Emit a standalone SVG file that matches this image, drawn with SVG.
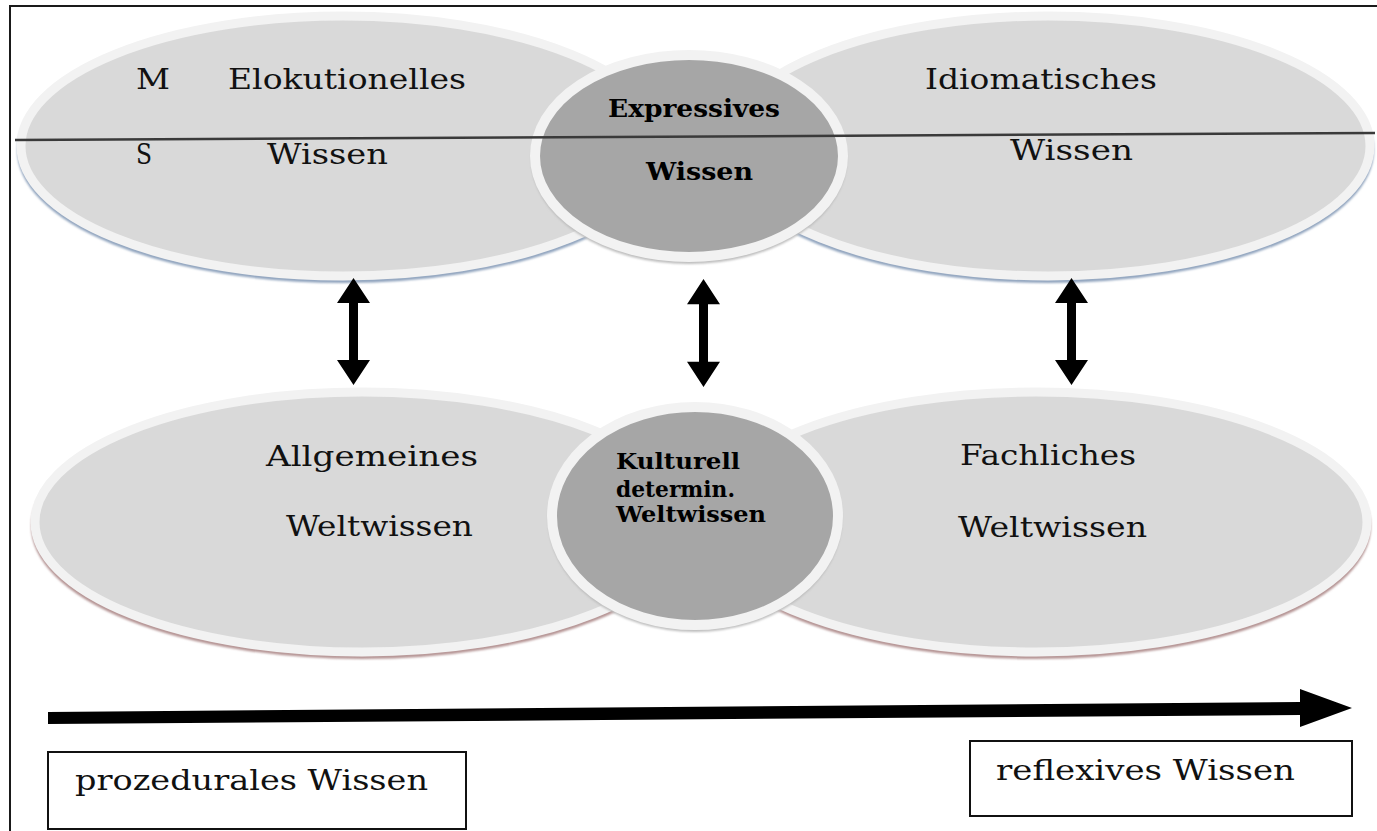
<svg xmlns="http://www.w3.org/2000/svg" xmlns:xlink="http://www.w3.org/1999/xlink" width="1377" height="831" viewBox="0 0 1377 831">
  <defs>
    <style>
      .big { fill: #d9d9d9; stroke: #f2f2f2; stroke-width: 9; }
      .mid { fill: #a6a6a6; stroke: #f2f2f2; stroke-width: 10; }
      .shB { fill: none; stroke: #8fa3bd; stroke-width: 4; filter: url(#soft); }
      .shR { fill: none; stroke: #b49393; stroke-width: 4; filter: url(#soft); }
      .shG { fill: none; stroke: #bdbdbd; stroke-width: 4; filter: url(#soft); }
      .t { font-family: "DejaVu Serif", "Liberation Serif", serif; font-size: 27px; fill: #111; }
      .tb { font-family: "DejaVu Serif", "Liberation Serif", serif; font-weight: bold; fill: #000; }
      .box { fill: #fff; stroke: #111; stroke-width: 2; }
    </style>
    <filter id="soft" x="-5%" y="-5%" width="110%" height="110%">
      <feGaussianBlur stdDeviation="1"/>
    </filter>
    <path id="dbl" d="M0,0 L16.5,25 L4.5,25 L4.5,82 L16.5,82 L0,107 L-16.5,82 L-4.5,82 L-4.5,25 L-16.5,25 Z" fill="#000"/>
  </defs>

  <rect x="10" y="6" width="1380" height="840" fill="#fff" stroke="#1a1a1a" stroke-width="2"/>

  <g id="node-elokutionelles">
    <ellipse class="shB" cx="343" cy="150" rx="324" ry="131"/>
    <ellipse class="big" cx="343" cy="146" rx="322" ry="130"/>
    <text class="t" x="136" y="89" textLength="34" lengthAdjust="spacingAndGlyphs">M</text>
    <text class="t" x="228" y="89" textLength="238" lengthAdjust="spacingAndGlyphs">Elokutionelles</text>
    <text class="t" x="136" y="164" textLength="16" lengthAdjust="spacingAndGlyphs">S</text>
    <text class="t" x="267" y="164" textLength="121" lengthAdjust="spacingAndGlyphs">Wissen</text>
  </g>

  <g id="node-idiomatisches">
    <ellipse class="shB" cx="1048" cy="150" rx="324" ry="131"/>
    <ellipse class="big" cx="1048" cy="146" rx="322" ry="130"/>
    <text class="t" x="925" y="89" textLength="232" lengthAdjust="spacingAndGlyphs">Idiomatisches</text>
    <text class="t" x="1010" y="160" textLength="123" lengthAdjust="spacingAndGlyphs">Wissen</text>
  </g>

  <g id="node-expressives">
    <ellipse class="shG" cx="689" cy="159" rx="156" ry="103"/>
    <ellipse class="mid" cx="689" cy="156" rx="154" ry="101"/>
    <text class="tb" x="608" y="117" font-size="24" textLength="172" lengthAdjust="spacingAndGlyphs">Expressives</text>
    <text class="tb" x="646" y="180" font-size="24" textLength="107" lengthAdjust="spacingAndGlyphs">Wissen</text>
  </g>

  <line x1="15" y1="140" x2="1375" y2="133" stroke="#3a3a3a" stroke-width="2.5"/>

  <g id="node-allgemeines">
    <ellipse class="shR" cx="362" cy="526" rx="329" ry="131"/>
    <ellipse class="big" cx="362" cy="522" rx="327" ry="130"/>
    <text class="t" x="266" y="466" textLength="212" lengthAdjust="spacingAndGlyphs">Allgemeines</text>
    <text class="t" x="286" y="536" textLength="187" lengthAdjust="spacingAndGlyphs">Weltwissen</text>
  </g>

  <g id="node-fachliches">
    <ellipse class="shR" cx="1036" cy="526" rx="333" ry="131"/>
    <ellipse class="big" cx="1036" cy="522" rx="331" ry="130"/>
    <text class="t" x="960" y="465" textLength="176" lengthAdjust="spacingAndGlyphs">Fachliches</text>
    <text class="t" x="958" y="537" textLength="189" lengthAdjust="spacingAndGlyphs">Weltwissen</text>
  </g>

  <g id="node-kulturell">
    <ellipse class="shG" cx="695" cy="519" rx="145" ry="111"/>
    <ellipse class="mid" cx="695" cy="516" rx="143" ry="109"/>
    <text class="tb" x="616" y="469" font-size="22" textLength="124" lengthAdjust="spacingAndGlyphs">Kulturell</text>
    <text class="tb" x="616" y="497" font-size="22" textLength="119" lengthAdjust="spacingAndGlyphs">determin.</text>
    <text class="tb" x="616" y="522" font-size="22" textLength="150" lengthAdjust="spacingAndGlyphs">Weltwissen</text>
  </g>

  <g id="connectors">
    <use xlink:href="#dbl" href="#dbl" transform="translate(353.5,278)"/>
    <use xlink:href="#dbl" href="#dbl" transform="translate(703.5,279) scale(1,1.01)"/>
    <use xlink:href="#dbl" href="#dbl" transform="translate(1071.5,278)"/>
    <polygon points="48,712 1300,702 1300,689 1352,708 1300,727 1300,715 48,724" fill="#000"/>
  </g>

  <g id="node-prozedurales">
    <rect class="box" x="48" y="752" width="418" height="77"/>
    <text class="t" x="75" y="790" textLength="353" lengthAdjust="spacingAndGlyphs">prozedurales Wissen</text>
  </g>

  <g id="node-reflexives">
    <rect class="box" x="970" y="741" width="382" height="75"/>
    <text class="t" x="996" y="780" textLength="299" lengthAdjust="spacingAndGlyphs">reflexives Wissen</text>
  </g>
</svg>
